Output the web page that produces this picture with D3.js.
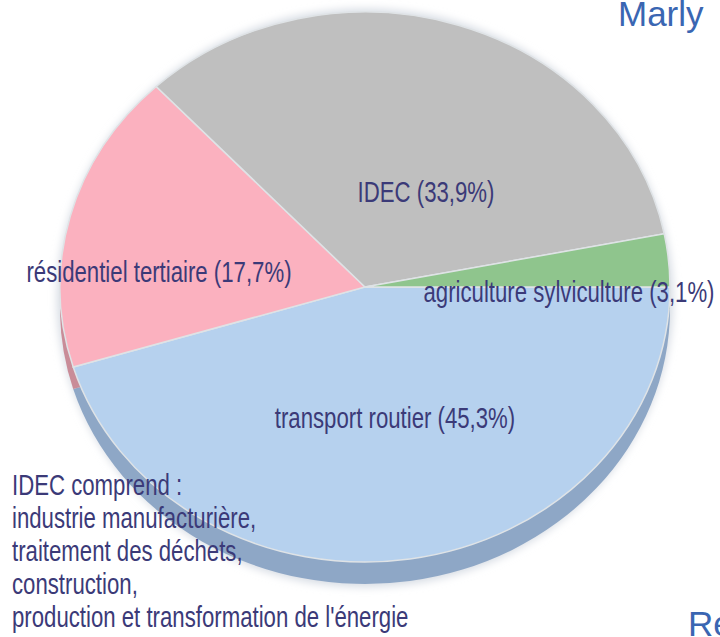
<!DOCTYPE html>
<html>
<head>
<meta charset="utf-8">
<script src="https://cdn.jsdelivr.net/npm/d3@7"></script>
<style>
  html, body { margin: 0; padding: 0; background: #fff; }
  svg { display: block; }
</style>
</head>
<body>
<div id="chart"></div>
<script>
(function () {
    'use strict';

    // data
    const categories = ['transport routier', 'résidentiel tertiaire', 'IDEC', 'agriculture sylviculture'];
    const values = [45.3, 17.7, 33.9, 3.1];
    const topColors = ['#b6d1ee', '#fbb1bf', '#bfbfbf', '#8fc58d'];
    const sideColors = ['#8ea7c6', '#c98c98', '#9a9a9a', '#6f9d6e'];
    const noteLines = [
        'IDEC comprend :',
        'industrie manufacturière,',
        'traitement des déchets,',
        'construction,',
        "production et transformation de l'énergie"
    ];

    // label placement (centre x, baseline y)
    const labelPos = [[395, 428], [159, 282], [426, 202], [569, 302]];

    const width = 720;
    const height = 637;
    const cx = 365, cy = 287;
    const rx = 305, ry = 275;
    const depth = 22;
    const ink = '#3b3a78';
    const squeeze = 0.74; // no narrow font installed, so condense by hand
    const sans = '"Liberation Sans", Arial, sans-serif';

    const fmt = v => d3.format('.1f')(v).replace('.', ',');

    const svg = d3.select('#chart').append('svg')
        .attr('width', width)
        .attr('height', height);

    const defs = svg.append('defs');
    defs.append('filter').attr('id', 'soft')
        .attr('x', '-10%').attr('y', '-10%').attr('width', '120%').attr('height', '120%')
        .append('feGaussianBlur').attr('stdDeviation', 4);

    const pie = d3.pie()
        .sort(null)
        .startAngle(Math.PI / 2)
        .endAngle(Math.PI / 2 + 2 * Math.PI);
    const arcs = pie(values);
    const arc = d3.arc().innerRadius(0).outerRadius(rx);

    // soft halo round the disc
    svg.append('ellipse')
        .attr('cx', cx).attr('cy', cy + depth / 2)
        .attr('rx', rx + 3).attr('ry', ry + depth / 2 + 3)
        .attr('fill', '#d6dbe3')
        .attr('filter', 'url(#soft)');

    // side of the disc
    svg.append('g')
        .attr('transform', `translate(${cx},${cy + depth}) scale(1,${ry / rx})`)
        .selectAll('path')
        .data(arcs)
        .join('path')
        .attr('d', arc)
        .attr('fill', (d, i) => sideColors[i]);

    // top face
    svg.append('g')
        .attr('transform', `translate(${cx},${cy}) scale(1,${ry / rx})`)
        .selectAll('path')
        .data(arcs)
        .join('path')
        .attr('d', arc)
        .attr('fill', (d, i) => topColors[i])
        .attr('stroke', '#dfe3e6')
        .attr('stroke-width', 1.5)
        .attr('vector-effect', 'non-scaling-stroke');

    // slice labels
    svg.append('g')
        .attr('font-family', sans)
        .attr('font-size', 30)
        .attr('fill', ink)
        .attr('text-anchor', 'middle')
        .selectAll('text')
        .data(categories)
        .join('text')
        .attr('transform', (d, i) => `translate(${labelPos[i][0]},${labelPos[i][1]}) scale(${squeeze},1)`)
        .text((d, i) => `${d} (${fmt(values[i])}%)`);

    // note
    svg.append('g')
        .attr('font-family', sans)
        .attr('font-size', 30)
        .attr('fill', ink)
        .selectAll('text')
        .data(noteLines)
        .join('text')
        .attr('transform', (d, i) => `translate(12,${495 + i * 33}) scale(${squeeze},1)`)
        .text(d => d);

    // cut-off titles
    svg.append('text')
        .attr('x', 618).attr('y', 26)
        .attr('font-family', sans)
        .attr('font-size', 35)
        .attr('fill', '#3a66b2')
        .text('Marly');

    svg.append('text')
        .attr('x', 688).attr('y', 636)
        .attr('font-family', sans)
        .attr('font-size', 35)
        .attr('fill', '#3a66b2')
        .text('Re');
})();
</script>
</body>
</html>
